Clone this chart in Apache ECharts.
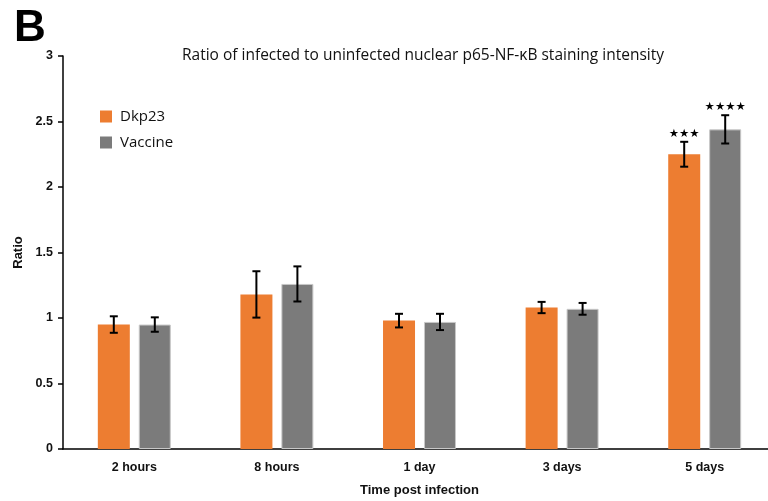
<!DOCTYPE html>
<html><head><meta charset="utf-8">
<script src="https://cdn.jsdelivr.net/npm/echarts@6/dist/echarts.min.js"></script>
<style>html,body{margin:0;padding:0;background:#fff}#c{width:768px;height:501px}</style>
</head><body><div id="c"></div>
<script>
const categories = ['2 hours', '8 hours', '1 day', '3 days', '5 days'];
const dkp23 = [0.95, 1.18, 0.98, 1.08, 2.25];
const dkp23Err = [0.063, 0.177, 0.052, 0.043, 0.095];
const vaccine = [0.95, 1.26, 0.97, 1.07, 2.44];
const vaccineErr = [0.055, 0.134, 0.062, 0.045, 0.108];
const dkp23Stars = ['', '', '', '', '★★★'];
const vaccineStars = ['', '', '', '', '★★★★'];
const yTicks = [0, 0.5, 1, 1.5, 2, 2.5, 3];

const chart = echarts.init(document.getElementById('c'));
const ORANGE = '#ED7D31', GRAY = '#7B7B7B';

function errSeries(name, vals, errs, stars, offset) {
  return {
    type: 'custom', name: name + ' err', silent: true, z: 5,
    data: vals.map((v, i) => [i, v, errs[i]]),
    renderItem: function (params, api) {
      const i = api.value(0), v = api.value(1), e = api.value(2);
      const s = stars[i];
      const top = api.coord([i, v + e]);
      const bot = api.coord([i, v - e]);
      const x = top[0] + offset;
      const cw = 4;
      const children = [
        {type: 'line', shape: {x1: x, y1: top[1], x2: x, y2: bot[1]}, style: {stroke: '#000', lineWidth: 2}},
        {type: 'line', shape: {x1: x - cw, y1: top[1], x2: x + cw, y2: top[1]}, style: {stroke: '#000', lineWidth: 2}},
        {type: 'line', shape: {x1: x - cw, y1: bot[1], x2: x + cw, y2: bot[1]}, style: {stroke: '#000', lineWidth: 2}}
      ];
      if (s) {
        children.push({type: 'text', x: x, y: top[1] - 2, style: {text: s, fill: '#000', font: '11.5px "DejaVu Sans"', align: 'center', verticalAlign: 'bottom'}});
      }
      return {type: 'group', children: children};
    }
  };
}

chart.setOption({
  animation: false,
  title: [
    {text: 'B', left: 9, top: 2, textStyle: {fontSize: 44, fontWeight: 'bold', fontFamily: 'Liberation Sans', color: '#000'}},
    {text: 'Ratio of infected to uninfected nuclear p65-NF-κB staining intensity', left: 418, textAlign: 'center', top: 43,
     textStyle: {fontSize: 15.5, fontWeight: 'normal', fontFamily: 'Open Sans', color: '#111'}}
  ],
  legend: {
    orient: 'vertical', left: 95, top: 104, itemWidth: 12, itemHeight: 12, itemGap: 11, icon: 'rect',
    data: ['Dkp23', 'Vaccine'],
    itemStyle: {borderWidth: 0},
    textStyle: {fontSize: 15, fontFamily: 'Open Sans', color: '#111', padding: [0, 0, 0, 3]}
  },
  grid: {left: 63, right: -8, top: 56, bottom: 52, containLabel: false, outerBoundsMode: 'none'},
  xAxis: {
    type: 'category', data: categories,
    name: 'Time post infection', nameLocation: 'middle', nameGap: 35,
    nameTextStyle: {fontSize: 13, fontWeight: 'bold', fontFamily: 'Liberation Sans', color: '#111'},
    axisLine: {lineStyle: {color: '#000', width: 1.5}},
    axisTick: {alignWithLabel: true, length: 4, lineStyle: {color: '#000', width: 1.5}},
    axisLabel: {fontSize: 12.5, fontWeight: 'bold', fontFamily: 'Liberation Sans', color: '#111', margin: 12}
  },
  yAxis: {
    type: 'value', min: 0, max: 3, interval: 0.5,
    name: 'Ratio', nameLocation: 'middle', nameGap: 38, nameRotate: 90,
    nameTextStyle: {fontSize: 13, fontWeight: 'bold', fontFamily: 'Liberation Sans', color: '#111'},
    axisLine: {show: true, lineStyle: {color: '#000', width: 1.5}},
    axisTick: {show: true, length: 5, lineStyle: {color: '#000', width: 1.5}},
    splitLine: {show: false},
    axisLabel: {fontSize: 12.5, fontWeight: 'bold', fontFamily: 'Liberation Sans', color: '#111', margin: 10,
      formatter: v => yTicks.includes(v) ? String(v) : ''}
  },
  series: [
    {name: 'Dkp23', type: 'bar', data: dkp23, barWidth: 32, barGap: '28%', itemStyle: {color: ORANGE}},
    {name: 'Vaccine', type: 'bar', data: vaccine, barWidth: 32, barGap: '28%', itemStyle: {color: GRAY, borderColor: '#c8c8c8', borderWidth: 1}},
    errSeries('Dkp23', dkp23, dkp23Err, dkp23Stars, -20.5),
    errSeries('Vaccine', vaccine, vaccineErr, vaccineStars, 20.5)
  ]
});
</script></body></html>
